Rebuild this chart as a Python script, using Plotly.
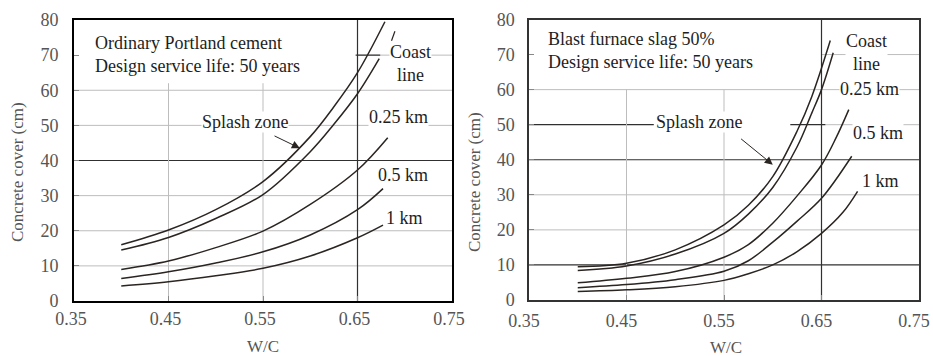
import plotly.graph_objects as go

# ---------------- data ----------------
# Left panel: Ordinary Portland cement
L_splash_x = [0.40, 0.45, 0.50, 0.55, 0.60, 0.625, 0.65, 0.679]
L_splash_y = [16.0, 20.2, 26.0, 34.0, 46.8, 55.3, 65.0, 79.5]
L_coast_x = [0.40, 0.45, 0.50, 0.55, 0.60, 0.625, 0.65, 0.673]
L_coast_y = [14.5, 18.1, 23.5, 30.3, 42.5, 50.3, 59.0, 69.0]
L_025_x = [0.40, 0.45, 0.50, 0.55, 0.60, 0.65, 0.682]
L_025_y = [9.0, 11.4, 15.2, 19.9, 27.5, 37.3, 46.5]
L_05_x = [0.40, 0.45, 0.50, 0.55, 0.60, 0.65, 0.677]
L_05_y = [6.4, 8.3, 10.8, 14.0, 18.8, 26.0, 32.0]
L_1_x = [0.40, 0.45, 0.50, 0.55, 0.60, 0.65, 0.677]
L_1_y = [4.3, 5.5, 7.2, 9.3, 12.8, 18.0, 21.6]

# Right panel: Blast furnace slag 50%
R_splash_x = [0.40, 0.45, 0.50, 0.55, 0.575, 0.60, 0.625, 0.64, 0.659]
R_splash_y = [9.5, 10.5, 14.3, 21.4, 27.0, 35.2, 48.2, 58.0, 74.0]
R_coast_x = [0.40, 0.45, 0.50, 0.55, 0.575, 0.60, 0.625, 0.64, 0.65, 0.662]
R_coast_y = [8.4, 9.7, 13.1, 19.0, 24.5, 32.1, 43.7, 53.3, 60.0, 70.5]
R_025_x = [0.40, 0.45, 0.50, 0.55, 0.575, 0.60, 0.625, 0.65, 0.665, 0.678]
R_025_y = [4.9, 6.2, 8.1, 12.2, 15.8, 21.9, 29.7, 38.5, 46.3, 54.3]
R_05_x = [0.40, 0.45, 0.50, 0.55, 0.575, 0.60, 0.625, 0.65, 0.681]
R_05_y = [3.5, 4.4, 5.8, 8.2, 11.2, 16.5, 22.5, 29.0, 41.0]
R_1_x = [0.40, 0.45, 0.50, 0.55, 0.575, 0.60, 0.625, 0.65, 0.672, 0.687]
R_1_y = [2.4, 2.9, 3.8, 5.6, 7.5, 10.0, 13.8, 19.0, 25.0, 31.0]

x_ticks = [0.35, 0.45, 0.55, 0.65, 0.75]
x_tick_text = ["0.35", "0.45", "0.55", "0.65", "0.75"]
y_ticks = [0, 10, 20, 30, 40, 50, 60, 70, 80]

left_title = "Ordinary Portland cement<br>Design service life: 50 years"
right_title = "Blast furnace slag 50%<br>Design service life: 50 years"
x_label = "W/C"
y_label = "Concrete cover (cm)"

# ---------------- figure ----------------
FONT = "Liberation Serif, Times New Roman, serif"
CURVE = "#2b2522"
TXT = "#1e1e1e"
TICK = "#555555"
GRID = "#bdbdbd"
DARK = "#303030"

fig = go.Figure()

left_series = [(L_splash_x, L_splash_y), (L_coast_x, L_coast_y), (L_025_x, L_025_y),
               (L_05_x, L_05_y), (L_1_x, L_1_y)]
right_series = [(R_splash_x, R_splash_y), (R_coast_x, R_coast_y), (R_025_x, R_025_y),
                (R_05_x, R_05_y), (R_1_x, R_1_y)]

for xs, ys in left_series:
    fig.add_trace(go.Scatter(x=xs, y=ys, mode="lines", line=dict(color=CURVE, width=1.5, shape="spline", smoothing=1),
                             xaxis="x", yaxis="y", showlegend=False, hoverinfo="skip"))
for xs, ys in right_series:
    fig.add_trace(go.Scatter(x=xs, y=ys, mode="lines", line=dict(color=CURVE, width=1.5, shape="spline", smoothing=1),
                             xaxis="x2", yaxis="y2", showlegend=False, hoverinfo="skip"))

shapes = []


def hline(ax, y, x0, x1, color, width):
    shapes.append(dict(type="line", xref=ax[0], yref=ax[1], x0=x0, x1=x1, y0=y, y1=y,
                       line=dict(color=color, width=width), layer="below"))


def vline(ax, x, y0, y1, color, width):
    shapes.append(dict(type="line", xref=ax[0], yref=ax[1], x0=x, x1=x, y0=y0, y1=y1,
                       line=dict(color=color, width=width), layer="below"))


LA = ("x", "y")
RA = ("x2", "y2")
# left grid
for yv in [10, 20, 30, 50, 60]:
    hline(LA, yv, 0.35, 0.75, GRID, 1)
hline(LA, 70, 0.65, 0.75, GRID, 1)
hline(LA, 70, 0.648, 0.674, DARK, 1.2)
hline(LA, 40, 0.35, 0.75, DARK, 1.2)
for xv in [0.45, 0.55]:
    vline(LA, xv, 0, 62, GRID, 1)
vline(LA, 0.65, 0, 80, DARK, 1.2)
# small leader near "Coast line" (left)
shapes.append(dict(type="line", xref="x", yref="y", x0=0.686, x1=0.6896, y0=74.1, y1=76.8,
                   line=dict(color=CURVE, width=1.2)))

# right grid
for yv in [20, 30, 60]:
    hline(RA, yv, 0.35, 0.75, GRID, 1)
hline(RA, 70, 0.65, 0.75, GRID, 1)
hline(RA, 50, 0.654, 0.75, GRID, 1)
hline(RA, 50, 0.35, 0.478, DARK, 1.2)
hline(RA, 50, 0.618, 0.654, DARK, 1.2)
hline(RA, 40, 0.35, 0.75, DARK, 1.2)
hline(RA, 10, 0.35, 0.75, DARK, 1.2)
for xv in [0.45, 0.55]:
    vline(RA, xv, 0, 60, GRID, 1)
vline(RA, 0.65, 0, 80, DARK, 1.2)

ann = []


def text(ax, x, y, s, xanchor="center", size=18, bg=None, align="center"):
    d = dict(xref=ax[0], yref=ax[1], x=x, y=y, text=s, showarrow=False, xanchor=xanchor,
             yanchor="middle", align=align, font=dict(family=FONT, size=size, color=TXT))
    if bg:
        d.update(bgcolor=bg, borderpad=0)
    ann.append(d)


def arrow(ax, x0, y0, x1, y1):
    ann.append(dict(xref=ax[0], yref=ax[1], axref=ax[0], ayref=ax[1], x=x1, y=y1, ax=x0, ay=y0,
                    text="", showarrow=True, arrowhead=2, arrowsize=1.6, arrowwidth=1, arrowcolor=CURVE))


# left annotations
text(LA, 0.370, 70.3, left_title, xanchor="left", align="left")
text(LA, 0.7056, 67.6, "Coast<br>line", bg="white")
text(LA, 0.531, 50.9, "Splash zone", bg="white")
text(LA, 0.693, 52.3, "0.25 km", bg="white")
text(LA, 0.698, 35.8, "0.5 km", bg="white")
text(LA, 0.700, 23.6, "1 km", bg="white")
arrow(LA, 0.5606, 47.2, 0.589, 43.5)

# right annotations
text(RA, 0.367, 71.1, right_title, xanchor="left", align="left")
text(RA, 0.696, 70.6, "Coast<br>line", bg="white")
text(RA, 0.6995, 60.3, "0.25 km", bg="white")
text(RA, 0.524, 50.9, "Splash zone", bg="white")
text(RA, 0.708, 47.7, "0.5 km", bg="white")
text(RA, 0.710, 34.0, "1 km", bg="white")
arrow(RA, 0.566, 46.3, 0.600, 38.6)

# axis titles
for xp, yp, s, ang in [(17 / 933, 1 - 172 / 356, y_label, -90), (474 / 933, 1 - 182 / 356, y_label, -90),
                       (263 / 933, 1 - 346 / 356, x_label, 0), (726 / 933, 1 - 347 / 356, x_label, 0)]:
    ann.append(dict(xref="paper", yref="paper", x=xp, y=yp, text=s, showarrow=False, textangle=ang,
                    xanchor="center", yanchor="middle", font=dict(family=FONT, size=17, color="#555555")))

axis_common = dict(showgrid=False, zeroline=False, ticks="inside", ticklen=5, tickcolor="#888888",
                   tickfont=dict(family=FONT, size=18, color=TICK), mirror=True, showline=True,
                   automargin=False)

fig.update_layout(
    width=933, height=356, autosize=False,
    margin=dict(l=0, r=0, t=0, b=0, pad=0),
    paper_bgcolor="white", plot_bgcolor="white",
    xaxis=dict(domain=[74 / 933, 452 / 933], range=[0.35, 0.75], tickvals=x_ticks, ticktext=x_tick_text,
               anchor="y", linecolor="black", linewidth=2, ticklabelstandoff=0, ticklabelshift=-3,
               **axis_common),
    yaxis=dict(domain=[1 - 301 / 356, 1 - 20 / 356], range=[0, 80], tickvals=y_ticks,
               anchor="x", linecolor="black", linewidth=2, ticklabelstandoff=10, **axis_common),
    xaxis2=dict(domain=[529 / 933, 919 / 933], range=[0.35, 0.75], tickvals=x_ticks, ticktext=x_tick_text,
                anchor="y2", linecolor="#333333", linewidth=1.5, ticklabelstandoff=4, ticklabelshift=-5,
                **axis_common),
    yaxis2=dict(domain=[1 - 300 / 356, 1 - 19.5 / 356], range=[0, 80], tickvals=y_ticks,
                anchor="x2", linecolor="#333333", linewidth=1.5, ticklabelstandoff=9, **axis_common),
    shapes=shapes, annotations=ann,
)

fig.write_html("out.html", config={"displayModeBar": False},
               post_script="document.body.style.margin='0px';document.body.style.padding='0px';")
